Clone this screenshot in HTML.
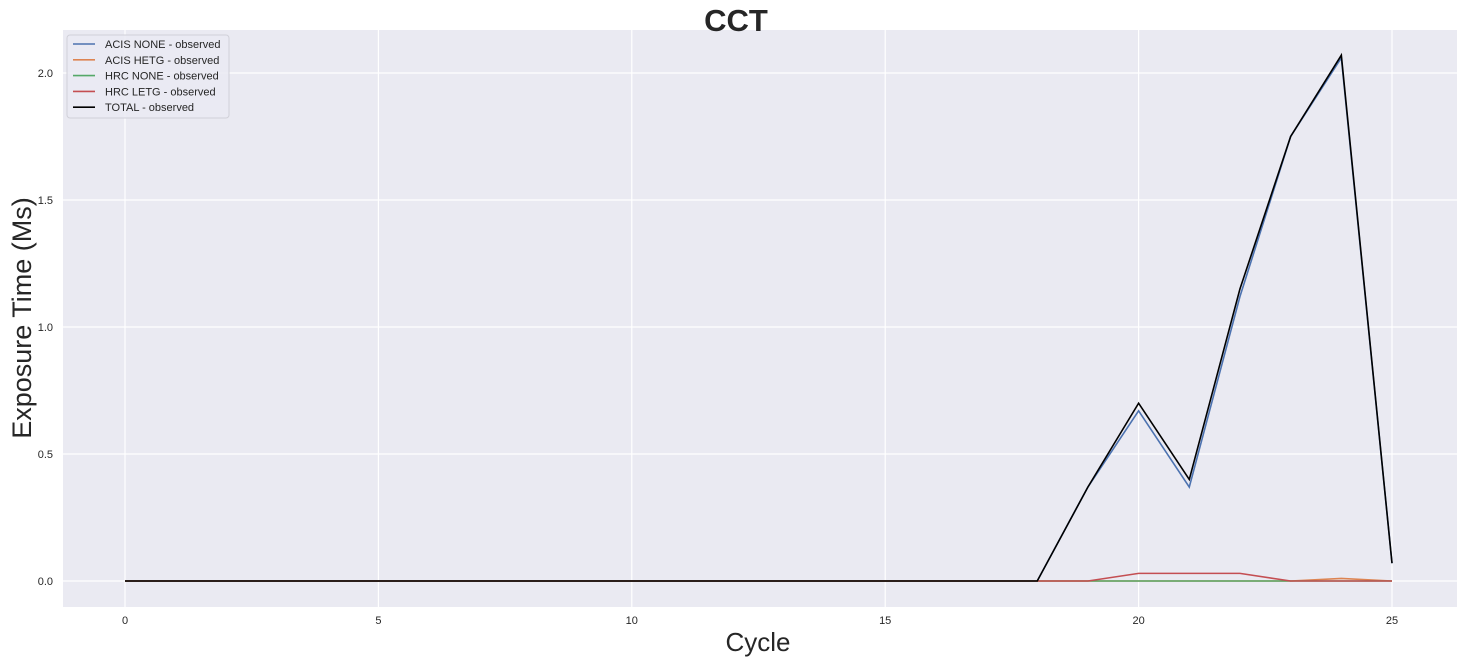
<!DOCTYPE html>
<html><head><meta charset="utf-8"><style>
body{margin:0;background:#fff;}
svg{display:block;font-family:"Liberation Sans","DejaVu Sans",sans-serif;}
</style></head><body>
<svg id="chart" width="1463" height="663">
<rect x="63" y="30" width="1394" height="577" fill="#eaeaf2"/>
<g id="grid"></g>
<g id="ticks"></g>
<g id="lines"></g>
<text x="736" y="31" text-anchor="middle" font-size="31" font-weight="bold" fill="#262626">CCT</text>
<text x="758" y="651" text-anchor="middle" font-size="26" fill="#262626">Cycle</text>
<text transform="translate(31,318) rotate(-90)" text-anchor="middle" font-size="27" fill="#262626">Exposure Time (Ms)</text>
<g id="legend">
<rect x="67" y="35" width="162" height="83" rx="3" fill="#eaeaf2" stroke="#d0d0d8" fill-opacity="0.8"/>
</g>
</svg>
<script>
const cycles=[0,1,2,3,4,5,6,7,8,9,10,11,12,13,14,15,16,17,18,19,20,21,22,23,24,25];
const acisNone=[0,0,0,0,0,0,0,0,0,0,0,0,0,0,0,0,0,0,0,0.37,0.67,0.37,1.12,1.75,2.06,0.07];
const acisHetg=[0,0,0,0,0,0,0,0,0,0,0,0,0,0,0,0,0,0,0,0,0,0,0,0,0.01,0];
const hrcNone=[0,0,0,0,0,0,0,0,0,0,0,0,0,0,0,0,0,0,0,0,0,0,0,0,0,0];
const hrcLetg=[0,0,0,0,0,0,0,0,0,0,0,0,0,0,0,0,0,0,0,0,0.03,0.03,0.03,0,0,0];
const total=[0,0,0,0,0,0,0,0,0,0,0,0,0,0,0,0,0,0,0,0.37,0.70,0.40,1.15,1.75,2.07,0.07];
const xTicks=[0,5,10,15,20,25];
const yTicks=[0,0.5,1.0,1.5,2.0];
const seriesNames=["ACIS NONE - observed","ACIS HETG - observed","HRC NONE - observed","HRC LETG - observed","TOTAL - observed"];
const NS="http://www.w3.org/2000/svg";
const xs=v=>125+v*(1392-125)/25;
const ys=v=>581-v*254;
function mk(t,a,p){const e=document.createElementNS(NS,t);for(const k in a)e.setAttribute(k,a[k]);p.appendChild(e);return e;}
const grid=document.getElementById('grid'),ticks=document.getElementById('ticks'),lines=document.getElementById('lines'),legend=document.getElementById('legend');
xTicks.forEach(t=>{
 const l=mk('line',{x1:xs(t),x2:xs(t),y1:30,y2:607,stroke:'#fff','stroke-width':1.2},grid);
 
 
 const tx=mk('text',{x:xs(t),y:624,'text-anchor':'middle','font-size':11,fill:'#262626'},ticks);
 tx.textContent=t;
 
 
});
yTicks.forEach(t=>{
 const l=mk('line',{x1:63,x2:1457,y1:ys(t),y2:ys(t),stroke:'#fff','stroke-width':1.2},grid);
 
 
 const tx=mk('text',{x:53,y:ys(t)+4,'text-anchor':'end','font-size':11,fill:'#262626'},ticks);
 tx.textContent=t.toFixed(1);
 
 
});
const series=[acisNone,acisHetg,hrcNone,hrcLetg,total];
const colors=['#4c72b0','#dd8452','#55a868','#c44e52','#000000'];
const keys=['acis-none','acis-hetg','hrc-none','hrc-letg','total'];
series.forEach((s,i)=>{
 const p=mk('polyline',{points:s.map((v,j)=>xs(cycles[j])+','+ys(v)).join(' '),fill:'none',stroke:colors[i],'stroke-width':1.6},lines);
 
 
 const y=44+i*15.8;
 const ll=mk('line',{x1:73,x2:95,y1:y,y2:y,stroke:colors[i],'stroke-width':1.6},legend);
 
 
 const lt=mk('text',{x:105,y:y+4,'font-size':11,fill:'#262626'},legend);
 lt.textContent=seriesNames[i];
 
 
});
</script>
</body></html>
